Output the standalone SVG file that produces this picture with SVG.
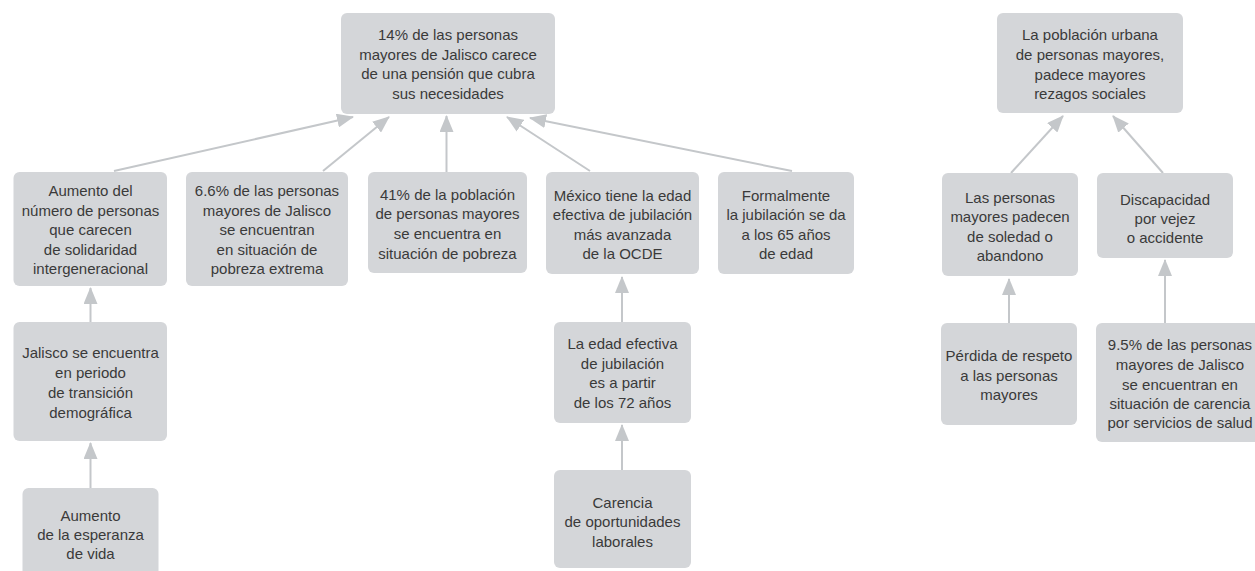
<svg xmlns="http://www.w3.org/2000/svg" width="1255" height="571" viewBox="0 0 1255 571">
<style>
.box{fill:#d4d6d9;}
.t{font-family:"Liberation Sans",Arial,sans-serif;font-size:15px;fill:#3a3a3a;text-anchor:middle;}
.c{stroke:#c4c7ca;stroke-width:2;fill:none;marker-end:url(#ah);}
</style>
<defs>
<marker id="ah" markerUnits="userSpaceOnUse" markerWidth="17" markerHeight="14" refX="16" refY="7" orient="auto">
<path d="M0,0 L17,7 L0,14 z" fill="#c4c7ca"/>
</marker>
</defs>
<rect width="1255" height="571" fill="#ffffff"/>
<g id="connectors">
<line class="c" x1="114" y1="171" x2="353" y2="117"/>
<line class="c" x1="323" y1="171" x2="389" y2="117"/>
<line class="c" x1="446.5" y1="172" x2="446.5" y2="116"/>
<line class="c" x1="590" y1="171" x2="507" y2="117"/>
<line class="c" x1="792" y1="171" x2="530" y2="118"/>
<line class="c" x1="90.5" y1="322" x2="90.5" y2="288"/>
<line class="c" x1="90.5" y1="488" x2="90.5" y2="443"/>
<line class="c" x1="622" y1="322" x2="622" y2="277"/>
<line class="c" x1="622" y1="470" x2="622" y2="425"/>
<line class="c" x1="1011" y1="173" x2="1063" y2="116"/>
<line class="c" x1="1163" y1="173" x2="1113" y2="116"/>
<line class="c" x1="1009" y1="323" x2="1009" y2="279"/>
<line class="c" x1="1165" y1="323" x2="1165" y2="260"/>
</g>
<g id="n-top1">
<rect class="box" x="341" y="13" width="214" height="101" rx="6"/>
<text class="t" x="448"><tspan x="448" y="40">14% de las personas</tspan><tspan x="448" y="59.5">mayores de Jalisco carece</tspan><tspan x="448" y="79">de una pensión que cubra</tspan><tspan x="448" y="98.5">sus necesidades</tspan></text>
</g>
<g id="n-aumento-numero">
<rect class="box" x="13.5" y="172" width="153.5" height="114" rx="6"/>
<text class="t"><tspan x="90.5" y="196">Aumento del</tspan><tspan x="90.5" y="216">número de personas</tspan><tspan x="90.5" y="235">que carecen</tspan><tspan x="90.5" y="255">de solidaridad</tspan><tspan x="90.5" y="274">intergeneracional</tspan></text>
</g>
<g id="n-66">
<rect class="box" x="186" y="172" width="162" height="114" rx="6"/>
<text class="t"><tspan x="267" y="196">6.6% de las personas</tspan><tspan x="267" y="216">mayores de Jalisco</tspan><tspan x="267" y="235">se encuentran</tspan><tspan x="267" y="255">en situación de</tspan><tspan x="267" y="274">pobreza extrema</tspan></text>
</g>
<g id="n-41">
<rect class="box" x="368" y="172" width="159" height="101" rx="6"/>
<text class="t"><tspan x="447.5" y="200">41% de la población</tspan><tspan x="447.5" y="219">de personas mayores</tspan><tspan x="447.5" y="239">se encuentra en</tspan><tspan x="447.5" y="259">situación de pobreza</tspan></text>
</g>
<g id="n-mexico">
<rect class="box" x="546" y="172" width="153" height="102" rx="6"/>
<text class="t"><tspan x="622.5" y="201">México tiene la edad</tspan><tspan x="622.5" y="220">efectiva de jubilación</tspan><tspan x="622.5" y="240">más avanzada</tspan><tspan x="622.5" y="259">de la OCDE</tspan></text>
</g>
<g id="n-formalmente">
<rect class="box" x="718" y="172" width="136" height="102" rx="6"/>
<text class="t"><tspan x="786" y="201">Formalmente</tspan><tspan x="786" y="220">la jubilación se da</tspan><tspan x="786" y="240">a los 65 años</tspan><tspan x="786" y="259">de edad</tspan></text>
</g>
<g id="n-jalisco">
<rect class="box" x="13.5" y="322" width="153.5" height="119" rx="6"/>
<text class="t"><tspan x="90.5" y="358">Jalisco se encuentra</tspan><tspan x="90.5" y="378">en periodo</tspan><tspan x="90.5" y="398">de transición</tspan><tspan x="90.5" y="418">demográfica</tspan></text>
</g>
<g id="n-esperanza">
<rect class="box" x="22.5" y="488" width="136" height="110" rx="6"/>
<text class="t"><tspan x="90.5" y="521">Aumento</tspan><tspan x="90.5" y="540">de la esperanza</tspan><tspan x="90.5" y="559">de vida</tspan></text>
</g>
<g id="n-edad72">
<rect class="box" x="554" y="322" width="137" height="101" rx="6"/>
<text class="t"><tspan x="622.5" y="349">La edad efectiva</tspan><tspan x="622.5" y="369">de jubilación</tspan><tspan x="622.5" y="388">es a partir</tspan><tspan x="622.5" y="408">de los 72 años</tspan></text>
</g>
<g id="n-carencia">
<rect class="box" x="554" y="470" width="137" height="98" rx="6"/>
<text class="t"><tspan x="622.5" y="508">Carencia</tspan><tspan x="622.5" y="527">de oportunidades</tspan><tspan x="622.5" y="547">laborales</tspan></text>
</g>
<g id="n-top2">
<rect class="box" x="997" y="13" width="186" height="100" rx="6"/>
<text class="t"><tspan x="1090" y="40">La población urbana</tspan><tspan x="1090" y="60">de personas mayores,</tspan><tspan x="1090" y="80">padece mayores</tspan><tspan x="1090" y="99">rezagos sociales</tspan></text>
</g>
<g id="n-soledad">
<rect class="box" x="942" y="173" width="136" height="103" rx="6"/>
<text class="t"><tspan x="1010" y="203">Las personas</tspan><tspan x="1010" y="222">mayores padecen</tspan><tspan x="1010" y="242">de soledad o</tspan><tspan x="1010" y="261">abandono</tspan></text>
</g>
<g id="n-discapacidad">
<rect class="box" x="1097" y="173" width="136" height="85" rx="6"/>
<text class="t"><tspan x="1165" y="205">Discapacidad</tspan><tspan x="1165" y="224">por vejez</tspan><tspan x="1165" y="243">o accidente</tspan></text>
</g>
<g id="n-respeto">
<rect class="box" x="941" y="323" width="136" height="102" rx="6"/>
<text class="t"><tspan x="1009" y="361">Pérdida de respeto</tspan><tspan x="1009" y="381">a las personas</tspan><tspan x="1009" y="400">mayores</tspan></text>
</g>
<g id="n-95">
<rect class="box" x="1096" y="323" width="172" height="119" rx="6"/>
<text class="t"><tspan x="1180" y="350">9.5% de las personas</tspan><tspan x="1180" y="370">mayores de Jalisco</tspan><tspan x="1180" y="390">se encuentran en</tspan><tspan x="1180" y="409">situación de carencia</tspan><tspan x="1180" y="428">por servicios de salud</tspan></text>
</g>
</svg>
